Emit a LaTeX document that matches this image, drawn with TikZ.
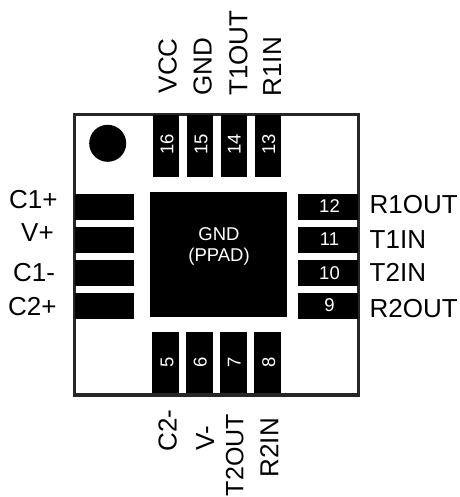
\documentclass[tikz,border=0pt]{standalone}
\usepackage{fontspec}
\setmainfont{Liberation Sans}
\tikzset{x=1pt,y=-1pt,
 padv/.style={fill=black,draw=none},
 lab/.style={font=\fontsize{26}{26}\selectfont,inner sep=0pt,text=black},
 num/.style={font=\fontsize{18.5}{18.5}\selectfont,inner sep=0pt,text=white}}
\begin{document}
\begin{tikzpicture}
\useasboundingbox (0,0) rectangle (459,497);
\node[name=body,draw=black!85,line width=3.6pt,fill=white,minimum width=284pt,minimum height=280pt,inner sep=0pt] at (216.5,254.7) {};
\fill (107.7,143.3) circle (18.5pt);
% top
\foreach \x/\n/\nb/\l/\lx/\ly in {152.7/16/173.3/VCC/176.7/93.5,186.7/15/207.3/GND/211.7/95.5,220.7/14/240.7/T1OUT/247.3/96,254.7/13/275/R1IN/281/96.5}{
 \fill[padv] (\x,115) rectangle ++(26.6,61.7);
 \node[num,rotate=90,anchor=base] at (\nb,144) {\n};
 \node[lab,rotate=90,anchor=base west] at (\lx,\ly) {\l};
}
% bottom
\foreach \x/\n/\nb/\l/\lx/\ly/\fs in {152.3/5/173.3/C2-/176.7/451.5/26,186.3/6/206.7/V-/214/451/26,220.3/7/240.7/T2OUT/243.3/496.3/25,254.3/8/275/R2IN/278.3/477.5/26}{
 \fill[padv] (\x,332.3) rectangle ++(26.7,61);
 \node[num,rotate=90,anchor=base] at (\nb,362.3) {\n};
 \node[lab,rotate=90,anchor=base west,font=\fontsize{\fs}{\fs}\selectfont] at (\lx,\ly) {\l};
}
% left
\foreach \y/\l/\lx/\ly in {194/C1+/9/208,226.7/V+/21/241.7,260/C1-/13/281.7,292.7/C2+/8/315}{
 \fill[padv] (75,\y) rectangle (134.3,\y+25.8);
 \node[lab,anchor=base west] at (\lx,\ly) {\l};
}
% right
\foreach \y/\n/\nb/\l/\ly in {194/12/212.7/R1OUT/213.3,226.7/11/245.7/T1IN/248.3,260/10/279/T2IN/281,292.7/9/311.7/R2OUT/317.3}{
 \fill[padv] (298.3,\y) rectangle (358,\y+25.8);
 \node[num,anchor=base] at (329.5,\nb) {\n};
 \node[lab,anchor=base west] at (369.5,\ly) {\l};
}
\fill (150,192) rectangle (286.7,316.7);
\node[name=gnd1,text=white,inner sep=0pt,font=\fontsize{18.5}{21}\selectfont,anchor=base] at (219,240.7) {GND};
\node[name=gnd2,text=white,inner sep=0pt,font=\fontsize{18.5}{21}\selectfont,anchor=base] at (219,261.7) {(PPAD)};
\end{tikzpicture}
\end{document}
